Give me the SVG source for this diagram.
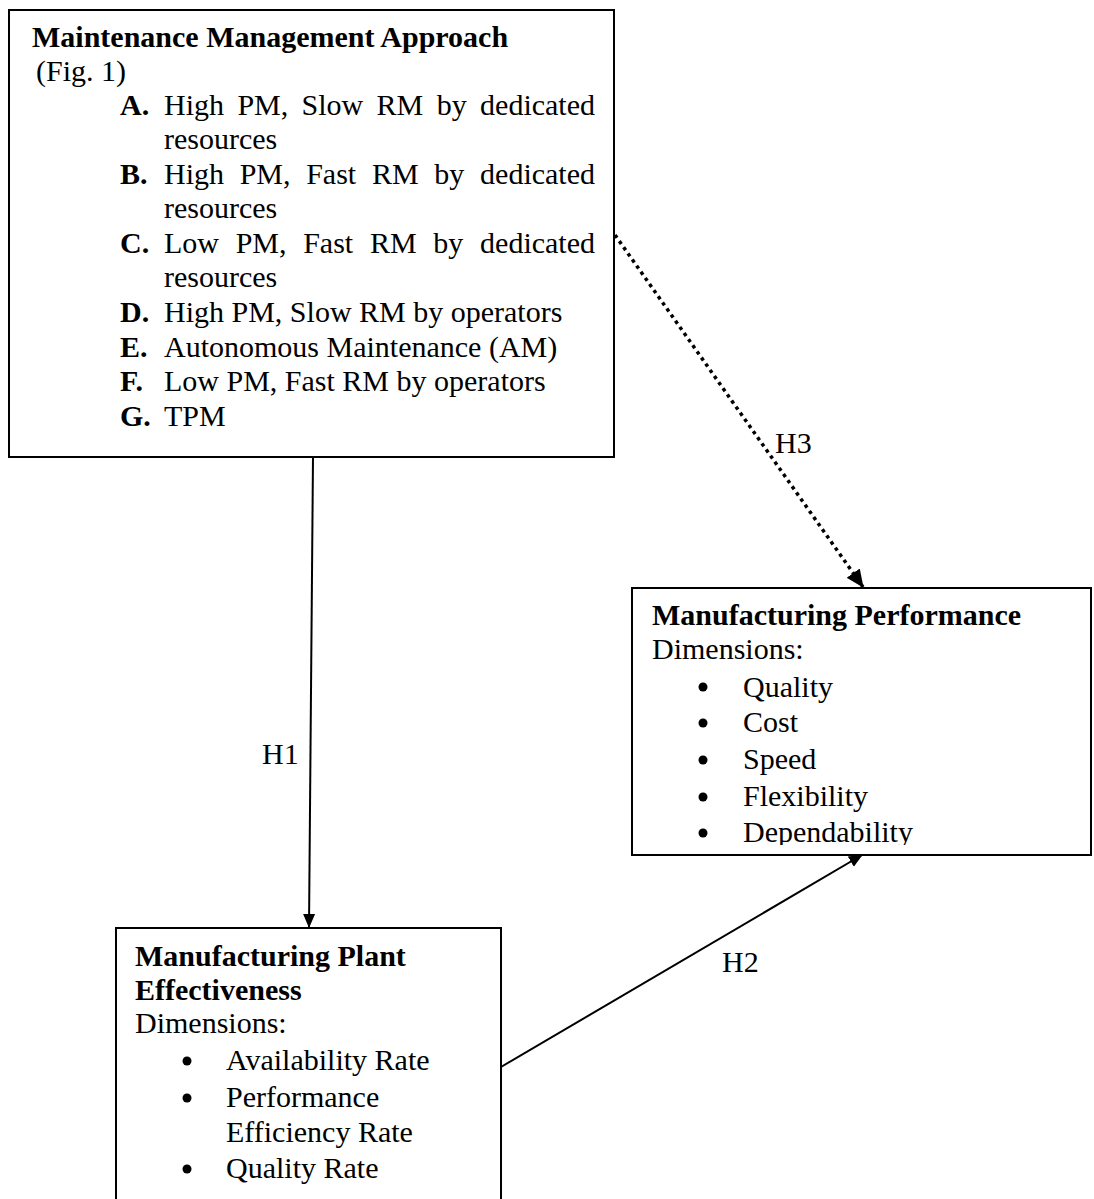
<svg xmlns="http://www.w3.org/2000/svg" width="1094" height="1199" viewBox="0 0 1094 1199">
<style>
text{font-family:"Liberation Serif","Times New Roman",serif;font-size:30px;fill:#000}
.b{font-weight:bold}
.box{fill:#fff;stroke:#000;stroke-width:2}
.ln{stroke:#000;stroke-width:2;fill:none}
.dot{stroke:#000;stroke-width:3.5;fill:none;stroke-dasharray:3.5 4}
</style>
<defs>
<marker id="ah" markerWidth="14" markerHeight="14" refX="13" refY="6" orient="auto" markerUnits="userSpaceOnUse" viewBox="0 0 14 12">
<path d="M0,0 L14,6 L0,12 Z" fill="#000"/>
</marker>
<marker id="ah3" markerWidth="18" markerHeight="18" refX="17" refY="8" orient="auto" markerUnits="userSpaceOnUse" viewBox="0 0 18 16">
<path d="M0,0 L18,8 L0,16 Z" fill="#000"/>
</marker>
<clipPath id="c2"><rect x="632" y="588" width="460" height="257"/></clipPath>
</defs>
<g id="n1">
<rect class="box" x="9" y="10" width="605" height="447"/>
<text class="b" x="32" y="47">Maintenance Management Approach</text>
<text x="36" y="81">(Fig. 1)</text>
<text class="b" x="120" y="115">A.</text>
<text y="115"><tspan x="164">High</tspan><tspan x="237.4">PM,</tspan><tspan x="301.6">Slow</tspan><tspan x="376.6">RM</tspan><tspan x="436.7">by</tspan></text>
<text x="595" y="115" text-anchor="end">dedicated</text>
<text x="164" y="149">resources</text>
<text class="b" x="120" y="184">B.</text>
<text y="184"><tspan x="164">High</tspan><tspan x="239.7">PM,</tspan><tspan x="306.2">Fast</tspan><tspan x="371.9">RM</tspan><tspan x="434.3">by</tspan></text>
<text x="595" y="184" text-anchor="end">dedicated</text>
<text x="164" y="218">resources</text>
<text class="b" x="120" y="253">C.</text>
<text y="253"><tspan x="164">Low</tspan><tspan x="235.7">PM,</tspan><tspan x="303.2">Fast</tspan><tspan x="369.9">RM</tspan><tspan x="433.3">by</tspan></text>
<text x="595" y="253" text-anchor="end">dedicated</text>
<text x="164" y="287">resources</text>
<text class="b" x="120" y="322">D.</text>
<text x="164" y="322">High PM, Slow RM by operators</text>
<text class="b" x="120" y="357">E.</text>
<text x="164" y="357">Autonomous Maintenance (AM)</text>
<text class="b" x="120" y="391">F.</text>
<text x="164" y="391">Low PM, Fast RM by operators</text>
<text class="b" x="120" y="426">G.</text>
<text x="164" y="426">TPM</text>
</g>
<g id="n2">
<rect class="box" x="632" y="588" width="459" height="267"/>
<g clip-path="url(#c2)">
<text class="b" x="652" y="625">Manufacturing Performance</text>
<text x="652" y="659">Dimensions:</text>
<circle cx="703" cy="687" r="4.5"/><text x="743" y="697">Quality</text>
<circle cx="703" cy="723" r="4.5"/><text x="743" y="732">Cost</text>
<circle cx="703" cy="760" r="4.5"/><text x="743" y="769">Speed</text>
<circle cx="703" cy="797" r="4.5"/><text x="743" y="806">Flexibility</text>
<circle cx="703" cy="833" r="4.5"/><text x="743" y="842">Dependability</text>
</g>
</g>
<g id="n3">
<path class="box" d="M116,1200 V928 H501 V1200"/>
<text class="b" x="135" y="966">Manufacturing Plant</text>
<text class="b" x="135" y="1000">Effectiveness</text>
<text x="135" y="1033">Dimensions:</text>
<circle cx="187" cy="1061" r="4.5"/><text x="226" y="1070">Availability Rate</text>
<circle cx="187" cy="1098" r="4.5"/><text x="226" y="1107">Performance</text>
<text x="226" y="1142">Efficiency Rate</text>
<circle cx="187" cy="1169" r="4.5"/><text x="226" y="1178">Quality Rate</text>
</g>
<g id="connectors">
<line class="ln" x1="313" y1="457" x2="309" y2="927" marker-end="url(#ah)"/>
<text x="262" y="764">H1</text>
<line class="ln" x1="501" y1="1067" x2="862" y2="855" marker-end="url(#ah)"/>
<text x="722" y="972">H2</text>
<line class="dot" x1="615" y1="235" x2="863" y2="587" marker-end="url(#ah3)"/>
<text x="775" y="453">H3</text>
</g>
</svg>
